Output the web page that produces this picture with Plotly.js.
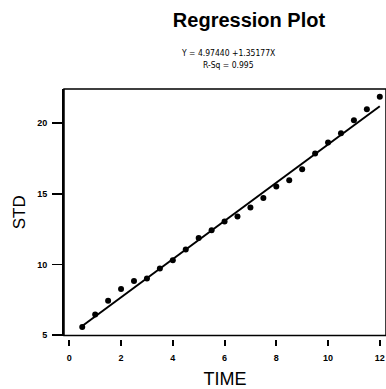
<!DOCTYPE html>
<html>
<head>
<meta charset="utf-8">
<script src="https://cdn.plot.ly/plotly-3.0.1.min.js"></script>
<style>html,body{margin:0;padding:0;background:#fff;}#chart{width:386px;height:389px;}</style>
</head>
<body>
<div id="chart"></div>
<script>
const timeValues = [0.5, 1.0, 1.5, 2.0, 2.5, 3.0, 3.5, 4.0, 4.5, 5.0, 5.5, 6.0,
                    6.5, 7.0, 7.5, 8.0, 8.5, 9.0, 9.5, 10.0, 10.5, 11.0, 11.5, 12.0];
const stdValues = [5.58, 6.47, 7.44, 8.27, 8.83, 9.01, 9.72, 10.31, 11.06, 11.87, 12.43, 13.04,
                   13.40, 14.03, 14.70, 15.52, 15.97, 16.75, 17.85, 18.63, 19.29, 20.21, 20.99, 21.88];
// Fitted line endpoints (Y = 4.97440 + 1.35177X)
const fitX = [0.5, 12.0];
const fitY = [5.65, 21.20];
const xTickVals = [0, 2, 4, 6, 8, 10, 12];
const yTickVals = [5, 10, 15, 20];
const titleText = 'Regression Plot';
const eqText = 'Y = 4.97440 +1.35177X';
const rsqText = 'R-Sq = 0.995';

const traces = [
  {x: fitX, y: fitY, type: 'scatter', mode: 'lines',
   line: {color: '#000', width: 2}, hoverinfo: 'skip', showlegend: false},
  {x: timeValues, y: stdValues, type: 'scatter', mode: 'markers',
   marker: {color: '#000', size: 6}, showlegend: false}
];

const narrow = 'Liberation Sans Narrow, DejaVu Sans Condensed, Liberation Sans, Arial, sans-serif';
const layout = {
  width: 386, height: 389,
  margin: {l: 64, r: 0, t: 89, b: 50},
  paper_bgcolor: '#fff', plot_bgcolor: '#fff',
  showlegend: false,
  font: {family: 'Liberation Sans, Arial, sans-serif', color: '#000'},
  title: {text: '<b>' + titleText + '</b>', font: {size: 20, family: 'Liberation Sans, Arial, sans-serif'},
          x: 249/386, xanchor: 'center', xref: 'container', y: 1 - 20/389, yanchor: 'middle', yref: 'container'},
  xaxis: {
    range: [-0.205, 12.24], anchor: 'free', position: 0,
    tickvals: xTickVals, ticks: 'outside', ticklen: 6, tickwidth: 2, tickcolor: '#000',
    ticklabelstandoff: 4,
    showline: false, showgrid: false, zeroline: false,
    tickfont: {size: 9, family: 'Liberation Sans, Arial, sans-serif', weight: 'bold'},
    title: {text: 'TIME', font: {size: 18}, standoff: 12}
  },
  yaxis: {
    range: [4.98, 22.42], domain: [0.014, 1],
    tickvals: yTickVals, ticks: 'outside', ticklen: 10, tickwidth: 1.5, tickcolor: '#000',
    ticklabelstandoff: 3,
    showline: true, linecolor: '#000', linewidth: 2,
    showgrid: false, zeroline: false,
    tickfont: {size: 9, family: 'Liberation Sans, Arial, sans-serif', weight: 'bold'},
    title: {text: 'STD', font: {size: 17}, standoff: 7}
  },
  shapes: [
    {type: 'rect', xref: 'x domain', yref: 'y domain', x0: 0, x1: 1, y0: 0, y1: 1,
     line: {color: '#000', width: 1.5}, layer: 'above'}
  ],
  annotations: [
    {text: eqText, xref: 'paper', yref: 'paper', x: (228-64)/322, y: (339-53)/250,
     xanchor: 'center', yanchor: 'middle', showarrow: false,
     font: {size: 8.5, family: narrow}},
    {text: rsqText, xref: 'paper', yref: 'paper', x: (228-64)/322, y: (339-65)/250,
     xanchor: 'center', yanchor: 'middle', showarrow: false,
     font: {size: 8.5, family: narrow}}
  ]
};

Plotly.newPlot('chart', traces, layout, {displayModeBar: false, staticPlot: true});
</script>
</body>
</html>
